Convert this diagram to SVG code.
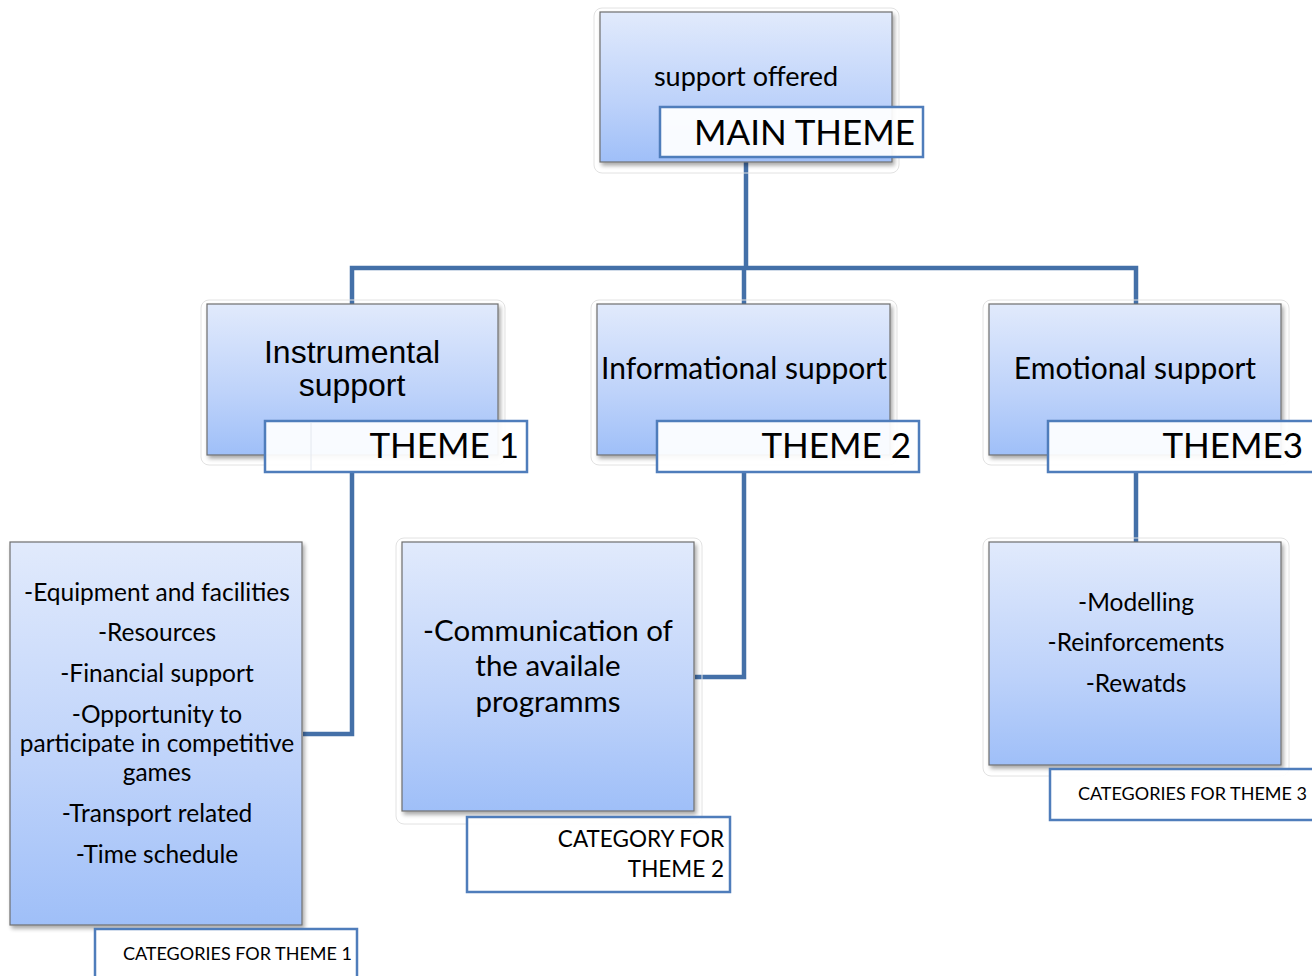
<svg xmlns="http://www.w3.org/2000/svg" width="1312" height="976" viewBox="0 0 1312 976">
  <defs>
    <linearGradient id="boxFill" x1="0" y1="0" x2="0" y2="1">
      <stop offset="0" stop-color="#e1eafc"/>
      <stop offset="0.6" stop-color="#bdd2fa"/>
      <stop offset="1" stop-color="#9fbff8"/>
    </linearGradient>
    <filter id="shadow" x="-10%" y="-10%" width="120%" height="120%">
      <feGaussianBlur in="SourceAlpha" stdDeviation="2"/>
      <feOffset dx="2" dy="3" result="b"/>
      <feComponentTransfer><feFuncA type="linear" slope="0.35"/></feComponentTransfer>
      <feMerge><feMergeNode/><feMergeNode in="SourceGraphic"/></feMerge>
    </filter>
  </defs>
  <style>
    .halo { fill: none; stroke: #e2e2e2; stroke-width: 1; }
    .box { fill: url(#boxFill); stroke: #6e6e6e; stroke-width: 1.2; filter: url(#shadow); }
    .tag { fill: #ffffff; fill-opacity: 0.93; stroke: #4f7dbb; stroke-width: 2.5; }
    .link { fill: none; stroke: #4470a8; stroke-width: 4.5; }
    text { font-family: Lato, "Open Sans", sans-serif; fill: #000; }
    .c { text-anchor: middle; }
    .r { text-anchor: end; }
    .arial { font-family: "Liberation Sans", Arial, sans-serif; }
  </style>

  <!-- connectors -->
  <g id="connectors">
    <path class="link" d="M746 162 V268"/>
    <path class="link" d="M352 304 V268 H1136 V304"/>
    <path class="link" d="M744 268 V304"/>
    <path class="link" d="M352 472 V734 H303"/>
    <path class="link" d="M744 472 V677 H695"/>
    <path class="link" d="M1136 472 V542"/>
  </g>

  <!-- main theme -->
  <g id="main">
    <rect class="halo" x="594" y="8" width="305" height="165" rx="8"/>
    <rect class="box" x="600" y="12" width="292" height="150"/>
    <text class="c" x="746" y="86" font-size="27">support offered</text>
    <rect class="tag" x="660" y="107" width="263" height="50"/>
    <text class="r" x="915" y="145" font-size="35">MAIN THEME</text>
  </g>

  <!-- theme 1 -->
  <g id="theme1">
    <rect class="halo" x="201" y="300" width="304" height="165" rx="8"/>
    <rect class="box" x="207" y="304" width="291" height="151"/>
    <text class="c arial" x="352" y="363" font-size="32">Instrumental</text>
    <text class="c arial" x="352" y="396" font-size="32">support</text>
    <rect class="tag" x="265" y="421" width="262" height="51"/>
    <line x1="311" y1="423" x2="311" y2="470" stroke="#e4e8ef" stroke-width="1"/>
    <text class="r" x="519" y="458" font-size="35">THEME 1</text>
  </g>

  <!-- theme 2 -->
  <g id="theme2">
    <rect class="halo" x="591" y="300" width="306" height="165" rx="8"/>
    <rect class="box" x="597" y="304" width="293" height="151"/>
    <text class="c" x="744" y="379" font-size="30">Informational support</text>
    <rect class="tag" x="657" y="421" width="262" height="51"/>
    <text class="r" x="911" y="458" font-size="35">THEME 2</text>
  </g>

  <!-- theme 3 -->
  <g id="theme3">
    <rect class="halo" x="983" y="300" width="306" height="165" rx="8"/>
    <rect class="box" x="989" y="304" width="292" height="151"/>
    <text class="c" x="1135" y="379" font-size="30">Emotional support</text>
    <rect class="tag" x="1048" y="421" width="266" height="51"/>
    <text class="r" x="1303" y="458" font-size="35">THEME3</text>
  </g>

  <!-- categories for theme 1 -->
  <g id="cat1">
    <rect class="box" x="10" y="542" width="292" height="383"/>
    <g font-size="24.5">
      <text class="c" x="157" y="601">-Equipment and facilities</text>
      <text class="c" x="157" y="641">-Resources</text>
      <text class="c" x="157" y="682">-Financial support</text>
      <text class="c" x="157" y="723">-Opportunity to</text>
      <text class="c" x="157" y="752">participate in competitive</text>
      <text class="c" x="157" y="781">games</text>
      <text class="c" x="157" y="822">-Transport related</text>
      <text class="c" x="157" y="863">-Time schedule</text>
    </g>
    <rect class="tag" x="95" y="929" width="262" height="52"/>
    <text class="r" x="352" y="960" font-size="18">CATEGORIES FOR THEME 1</text>
  </g>

  <!-- category for theme 2 -->
  <g id="cat2">
    <rect class="halo" x="396" y="538" width="306" height="286" rx="8"/>
    <rect class="box" x="402" y="542" width="292" height="269"/>
    <g font-size="29.5">
      <text class="c" x="548" y="641">-Communication of</text>
      <text class="c" x="548" y="676">the availale</text>
      <text class="c" x="548" y="712">programms</text>
    </g>
    <rect class="tag" x="467" y="817" width="263" height="75"/>
    <text class="r" x="724" y="847" font-size="22.5">CATEGORY FOR</text>
    <text class="r" x="724" y="877" font-size="22.5">THEME 2</text>
  </g>

  <!-- categories for theme 3 -->
  <g id="cat3">
    <rect class="halo" x="983" y="538" width="306" height="238" rx="8"/>
    <rect class="box" x="989" y="542" width="292" height="223"/>
    <g font-size="24.5">
      <text class="c" x="1136" y="611">-Modelling</text>
      <text class="c" x="1136" y="651">-Reinforcements</text>
      <text class="c" x="1136" y="692">-Rewatds</text>
    </g>
    <rect class="tag" x="1050" y="769" width="266" height="51"/>
    <text class="r" x="1307" y="800" font-size="18">CATEGORIES FOR THEME 3</text>
  </g>
</svg>
